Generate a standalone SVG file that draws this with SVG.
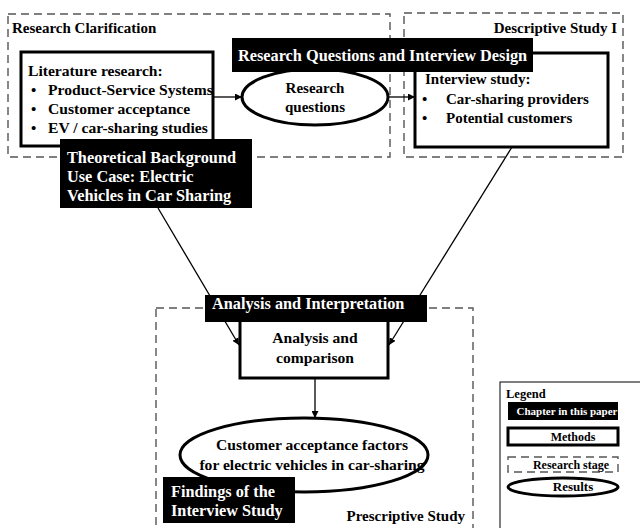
<svg xmlns="http://www.w3.org/2000/svg" width="640" height="528" viewBox="0 0 640 528">
<defs>
<marker id="arr" viewBox="0 0 10 10" refX="10" refY="5" markerWidth="7" markerHeight="7" orient="auto" markerUnits="userSpaceOnUse">
<path d="M0,0 L10,5 L0,10 z" fill="#000"/>
</marker>
<style>
text{font-family:"Liberation Serif","Times New Roman",serif;font-weight:bold;fill:#000}
.stage{fill:none;stroke:#555;stroke-width:1.4;stroke-dasharray:8 5}
.method{fill:#fff;stroke:#000;stroke-width:3}
.result{fill:#fff;stroke:#000;stroke-width:3}
.chap{fill:#000}
.chap text,text.w{fill:#fff}
.con{fill:none;stroke:#000;stroke-width:1.3}
.t15{font-size:15px}
.t155{font-size:15.6px}
.t16{font-size:16.3px}
.t12{font-size:12px}
</style>
</defs>
<rect width="640" height="528" fill="#fff"/>

<g id="stage-clarification">
<rect class="stage" x="8" y="14" width="382" height="143"/>
<text class="t15" x="12" y="33">Research Clarification</text>
</g>
<g id="stage-descriptive">
<rect class="stage" x="404" y="13" width="219" height="144"/>
<text class="t15" x="617" y="33" text-anchor="end">Descriptive Study I</text>
</g>
<g id="stage-prescriptive">
<rect class="stage" x="156" y="308" width="317" height="240"/>
<text class="t15" x="465" y="521" text-anchor="end">Prescriptive Study</text>
</g>

<g id="literature">
<rect class="method" x="21" y="52" width="192" height="94"/>
<text class="t155" x="28" y="76">Literature research:</text>
<text class="t15" x="31" y="95">•</text>
<text class="t155" x="48" y="95">Product-Service Systems</text>
<text class="t15" x="31" y="114">•</text>
<text class="t155" x="48" y="114">Customer acceptance</text>
<text class="t15" x="31" y="133">•</text>
<text class="t155" x="48" y="133">EV / car-sharing studies</text>
</g>

<g id="research-questions">
<ellipse class="result" cx="315" cy="97" rx="73" ry="28"/>
<text class="t15" x="315" y="93" text-anchor="middle">Research</text>
<text class="t15" x="315" y="112" text-anchor="middle">questions</text>
</g>

<g id="interview">
<rect class="method" x="415" y="53" width="193" height="94"/>
<text class="t15" x="425" y="84">Interview study:</text>
<text class="t15" x="422" y="104">•</text>
<text class="t15" x="446" y="104">Car-sharing providers</text>
<text class="t15" x="422" y="123">•</text>
<text class="t15" x="446" y="123">Potential customers</text>
</g>

<g id="analysis">
<rect class="method" x="240" y="315" width="148" height="63"/>
<text class="t155" x="315" y="343" text-anchor="middle">Analysis and</text>
<text class="t155" x="315" y="363" text-anchor="middle">comparison</text>
</g>

<g id="factors">
<ellipse class="result" cx="304" cy="455" rx="124" ry="37"/>
<text class="t155" x="312" y="450" text-anchor="middle">Customer acceptance factors</text>
<text class="t155" x="312" y="470" text-anchor="middle">for electric vehicles in car-sharing</text>
</g>

<g id="connectors">
<line class="con" x1="213" y1="97" x2="242" y2="97" marker-end="url(#arr)"/>
<line class="con" x1="388" y1="97" x2="415" y2="97" marker-end="url(#arr)"/>
<line class="con" x1="158" y1="208" x2="239" y2="345" marker-end="url(#arr)"/>
<line class="con" x1="512" y1="147" x2="389" y2="345" marker-end="url(#arr)"/>
<line class="con" x1="315" y1="378" x2="315" y2="418" marker-end="url(#arr)"/>
</g>

<g id="chapter-rq" class="chap">
<rect x="232" y="38" width="301" height="34"/>
<text class="t16 w" x="238" y="61">Research Questions and Interview Design</text>
</g>
<g id="chapter-theory" class="chap">
<rect x="60" y="139" width="192" height="69"/>
<text class="t16 w" x="67" y="163">Theoretical Background</text>
<text class="t16 w" x="67" y="182">Use Case: Electric</text>
<text class="t16 w" x="67" y="201">Vehicles in Car Sharing</text>
</g>
<g id="chapter-analysis" class="chap">
<rect x="205" y="295" width="222" height="27"/>
<text class="t16 w" x="212" y="309">Analysis and Interpretation</text>
</g>
<g id="chapter-findings" class="chap">
<rect x="163" y="477" width="132" height="46"/>
<text class="t16 w" x="171" y="497">Findings of the</text>
<text class="t16 w" x="171" y="516">Interview Study</text>
</g>

<g id="legend">
<rect x="500" y="382" width="150" height="160" fill="#fff" stroke="#000" stroke-width="1"/>
<text class="t12" x="506" y="398" style="font-size:12.5px">Legend</text>
<rect x="508" y="402" width="110" height="18" fill="#000"/>
<text class="t12 w" x="567" y="415" text-anchor="middle" style="font-size:11px">Chapter in this paper</text>
<rect class="method" x="508" y="428" width="110" height="17" stroke-width="2.5"/>
<text class="t12" x="573" y="441" text-anchor="middle">Methods</text>
<rect class="stage" x="508" y="457" width="110" height="15" stroke-dasharray="6 4"/>
<text class="t12" x="571" y="469" text-anchor="middle">Research stage</text>
<ellipse class="result" cx="563" cy="487" rx="55" ry="9" stroke-width="2.5"/>
<text class="t12" x="573" y="491" text-anchor="middle" style="font-size:13px">Results</text>
</g>
</svg>
